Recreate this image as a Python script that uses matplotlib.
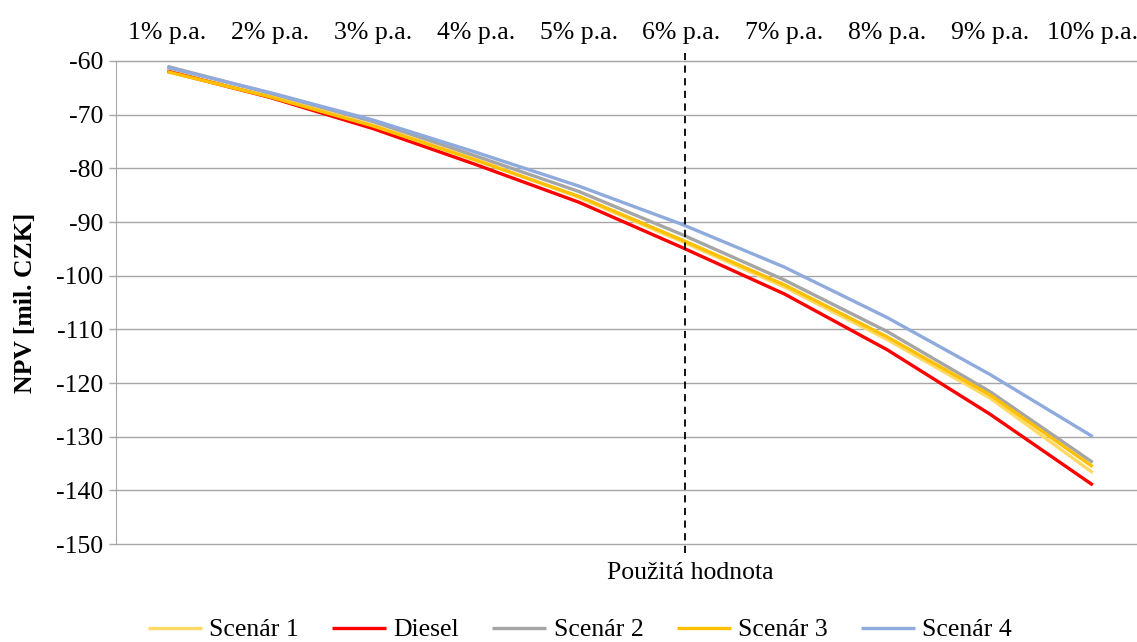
import matplotlib.pyplot as plt
from matplotlib import rcParams

rcParams['font.family'] = ['Liberation Serif', 'DejaVu Serif']
rcParams['axes.unicode_minus'] = False

# diskontní sazby a NPV jednotlivých variant [mil. CZK]
sazby = ['1% p.a.', '2% p.a.', '3% p.a.', '4% p.a.', '5% p.a.',
         '6% p.a.', '7% p.a.', '8% p.a.', '9% p.a.', '10% p.a.']
scenar1 = [-61.8, -66.6, -72.0, -78.3, -85.4, -93.6, -102.1, -111.9, -122.8, -136.7]
diesel = [-61.9, -66.8, -72.6, -79.3, -86.3, -94.7, -103.4, -113.8, -125.8, -139.0]
scenar2 = [-61.0, -66.0, -71.3, -77.7, -84.3, -92.3, -100.8, -110.4, -121.6, -134.8]
scenar3 = [-62.0, -66.7, -72.1, -78.5, -85.2, -93.3, -101.7, -111.4, -122.2, -135.6]
scenar4 = [-61.2, -65.9, -71.0, -77.0, -83.3, -90.4, -98.4, -107.8, -118.4, -130.0]

rady = [('Scenár 1', scenar1, '#FFD966'),
        ('Diesel', diesel, '#FF0000'),
        ('Scenár 2', scenar2, '#A5A5A5'),
        ('Scenár 3', scenar3, '#FFC000'),
        ('Scenár 4', scenar4, '#8FAADC')]

fs = 18.5

fig = plt.figure(figsize=(11.37, 6.42), dpi=100)
ax = fig.add_axes([0.102, 0.1526, 0.898, 0.7524])

x = range(len(sazby))
for nazev, hodnoty, barva in rady:
    ax.plot(x, hodnoty, color=barva, lw=2.4, label=nazev, solid_capstyle='butt')

ax.set_xlim(-0.5, 9.43)
ax.set_ylim(-150, -60)
ax.set_yticks(range(-150, -59, 10))
ax.grid(axis='y', color='#A6A6A6', lw=1)
for g in ax.get_ygridlines():
    g.set_clip_on(False)
ax.set_axisbelow(True)

ax.xaxis.tick_top()
ax.set_xticks(list(x))
ax.set_xticklabels(sazby, fontsize=fs)
ax.tick_params(axis='x', length=0, pad=12)
ax.tick_params(axis='y', labelsize=fs, color='#A6A6A6', length=5, width=1, pad=4)

for s in ['right', 'bottom']:
    ax.spines[s].set_visible(False)
ax.spines['left'].set_color('#A6A6A6')
ax.spines['top'].set_color('#A6A6A6')

ax.set_ylabel('NPV [mil. CZK]', fontsize=fs, fontweight='bold', labelpad=14)

# použitá hodnota diskontní sazby
ax.axvline(5.03, ymin=-0.018, ymax=1.017, color='black', lw=1.3,
           ls=(0, (4, 3)), clip_on=False)
fig.text(690 / 1137, 1 - 573 / 642, 'Použitá hodnota', fontsize=fs,
         ha='center', va='center')

fig.legend(loc='center', bbox_to_anchor=(0.51, 1 - 630 / 642), ncol=5,
           frameon=False, fontsize=fs, handlelength=2.1, handletextpad=0.28,
           columnspacing=1.3)

fig.savefig('out.png', dpi=100)
